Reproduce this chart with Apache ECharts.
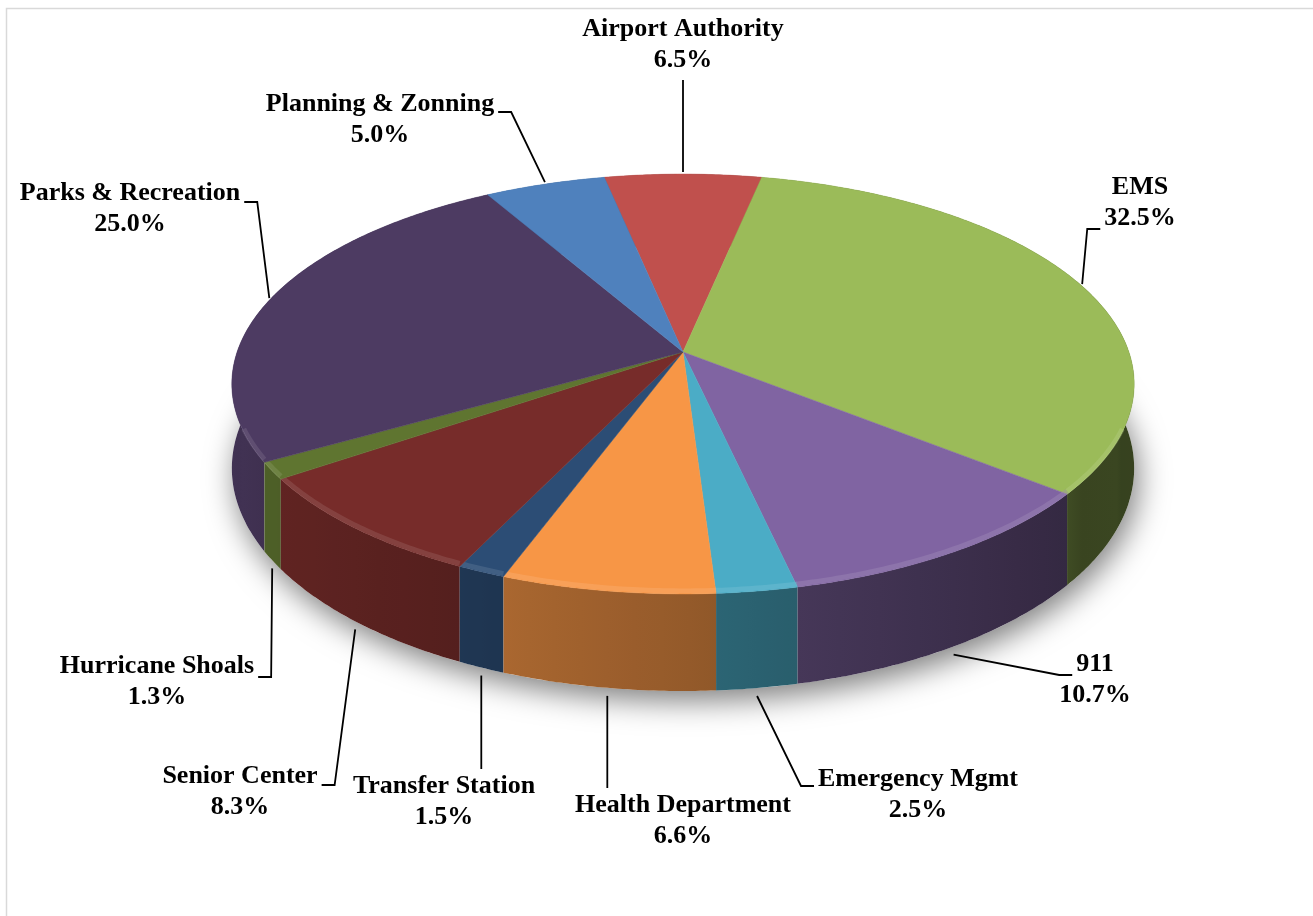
<!DOCTYPE html>
<html>
<head>
<meta charset="utf-8">
<script src="https://cdn.jsdelivr.net/npm/echarts@6/dist/echarts.min.js"></script>
<style>
  html, body { margin: 0; padding: 0; background: #ffffff; }
  #chart { width: 1313px; height: 916px; }
</style>
</head>
<body>
<div id="chart"></div>
<script>
// Budget share by department (percent of total)
const categories = ['Airport Authority', 'EMS', '911', 'Emergency Mgmt', 'Health Department',
  'Transfer Station', 'Senior Center', 'Hurricane Shoals', 'Parks & Recreation', 'Planning & Zonning'];
const shares = [6.5, 32.5, 10.7, 2.5, 6.6, 1.5, 8.3, 1.3, 25.0, 5.0];
const colors = ['#C0504D', '#9BBB59', '#8064A2', '#4BACC6', '#F79646',
  '#2C4D75', '#772C2A', '#5F7530', '#4D3B62', '#4F81BD'];

// Label placement: centre of the two-line label, the side its leader leaves from,
// and the vertical offset of the leader's attachment for side leaders.
const labelLayout = [
  { x: 683,  y: 45,  side: 'bottom' },
  { x: 1140, y: 203, side: 'left',  dy: 26 },
  { x: 1095, y: 680, side: 'left',  dy: -5 },
  { x: 918,  y: 795, side: 'left',  dy: -9 },
  { x: 683,  y: 821, side: 'top' },
  { x: 444,  y: 802, side: 'top' },
  { x: 240,  y: 792, side: 'right', dy: -7 },
  { x: 157,  y: 682, side: 'right', dy: -5 },
  { x: 130,  y: 209, side: 'right', dy: -7 },
  { x: 380,  y: 120, side: 'right', dy: -8 }
];

// ---- tilted-disc projection ----
const CX = 683, CY = 352;   // apex of the pie on screen
const DIST = 6.56;          // viewer distance in disc radii
const SX = 2925, SY = 1345; // horizontal / depth scale
const THICK = 540;          // disc thickness (scaled by perspective)

const total = shares.reduce((a, b) => a + b, 0);
const startAngle = -Math.PI * shares[0] / total; // first slice centred at the back
function angleAt(frac) { return startAngle + 2 * Math.PI * frac; }

// phi measured clockwise from the far side of the disc; level 0 = top face, 1 = underside
function project(phi, level) {
  const X = Math.sin(phi), Z = -Math.cos(phi);
  const w = DIST - Z;
  return [CX + SX * X / w, CY + (SY * Z + level * THICK) / w];
}

function hexToRgb(h) {
  const n = parseInt(h.slice(1), 16);
  return [(n >> 16) & 255, (n >> 8) & 255, n & 255];
}
function rgbStr(c) { return 'rgb(' + c.map(v => Math.max(0, Math.min(255, Math.round(v)))).join(',') + ')'; }
function shade(hex, f) { return rgbStr(hexToRgb(hex).map(v => v * f)); }
function tint(hex, t) { return rgbStr(hexToRgb(hex).map(v => v + (255 - v) * t)); }

const cumBefore = [];
shares.reduce((acc, v, i) => { cumBefore[i] = acc; return acc + v; }, 0);
const seriesData = shares.map((v, i) => ({ name: categories[i], value: [v, cumBefore[i], i] }));

function arcRange(api) {
  const v = api.value(0), c = api.value(1);
  return [angleAt(c / total), angleAt((c + v) / total)];
}
function arcPoints(a0, a1, level) {
  const n = Math.max(3, Math.ceil((a1 - a0) / 0.01));
  const pts = [];
  for (let k = 0; k <= n; k++) pts.push(project(a0 + (a1 - a0) * k / n, level));
  return pts;
}

// side walls: lit from the left, darker toward the right
function wallBrightness(phi) { return 0.6 - 0.25 * Math.sin(phi); }

function renderWall(params, api) {
  const i = api.value(2);
  const [a0, a1] = arcRange(api);
  const top = arcPoints(a0, a1, 0);
  const bot = arcPoints(a0, a1, 1);
  const pts = top.concat(bot.slice().reverse());
  const xs = pts.map(p => p[0]);
  const minX = Math.min.apply(null, xs), maxX = Math.max.apply(null, xs);
  const stops = [];
  const m = 8;
  for (let k = 0; k <= m; k++) {
    const phi = a0 + (a1 - a0) * k / m;
    const p = project(phi, 0);
    const off = maxX > minX ? (p[0] - minX) / (maxX - minX) : 0;
    stops.push({ offset: Math.max(0, Math.min(1, off)), color: shade(colors[i], wallBrightness(phi)) });
  }
  stops.sort((a, b) => a.offset - b.offset);
  const midZ = -Math.cos((a0 + a1) / 2);
  return {
    type: 'polygon',
    z2: Math.round(midZ * 100) + 200,
    shape: { points: pts },
    style: { fill: new echarts.graphic.LinearGradient(0, 0, 1, 0, stops), stroke: null },
    silent: true
  };
}

function renderTop(params, api) {
  const i = api.value(2);
  const [a0, a1] = arcRange(api);
  const rim = arcPoints(a0, a1, 0);
  const children = [{
    type: 'polygon',
    shape: { points: [[CX, CY]].concat(rim) },
    style: { fill: colors[i], stroke: colors[i], lineWidth: 0.5 },
    silent: true
  }];
  // soft bevel highlight along the front rim
  const lo = Math.max(a0, Math.PI * 0.62), hi = Math.min(a1, Math.PI * 1.38);
  if (hi > lo) {
    children.push({
      type: 'polyline',
      shape: { points: arcPoints(lo, hi, 0).map(p => [p[0], p[1] - 3]) },
      style: { stroke: tint(colors[i], 0.25), lineWidth: 5, opacity: 0.4, fill: null },
      silent: true
    });
  }
  return { type: 'group', children: children };
}

const FONT = 'bold 26px "Liberation Serif", "Times New Roman", serif';
const measureCtx = document.createElement('canvas').getContext('2d');
measureCtx.font = FONT;
function textWidth(s) { return measureCtx.measureText(s).width; }

function renderLabel(params, api) {
  const i = api.value(2);
  const [a0, a1] = arcRange(api);
  const mid = (a0 + a1) / 2;
  const midZ = -Math.cos(mid);
  let tip;
  if (midZ > 0.3) { const p = project(mid, 1); tip = [p[0], p[1] + 8]; }
  else { const p = project(mid, 0); tip = [p[0], p[1] - 2]; }
  const L = labelLayout[i];
  const line1 = categories[i];
  const line2 = api.value(0).toFixed(1) + '%';
  let pts;
  if (L.side === 'bottom') {
    pts = [[tip[0], L.y + 35], tip];
  } else if (L.side === 'top') {
    pts = [[tip[0], L.y - 33], tip];
  } else {
    const w = textWidth(L.dy > 0 ? line2 : line1);
    const dir = L.side === 'left' ? -1 : 1;
    const ax = L.x + dir * (w / 2 + 4), ay = L.y + L.dy;
    pts = [[ax, ay], [ax + dir * 13, ay], tip];
  }
  return {
    type: 'group',
    children: [
      { type: 'polyline', shape: { points: pts }, style: { stroke: '#000', lineWidth: 1.8, fill: null }, silent: true },
      { type: 'text', style: { text: line1 + '\n' + line2, x: L.x, y: L.y, align: 'center', verticalAlign: 'middle',
          font: FONT, lineHeight: 31, fill: '#000' }, silent: true }
    ]
  };
}

// outline of the underside, used for the soft drop shadow
const basePts = [];
for (let k = 0; k < 360; k++) basePts.push(project(k * Math.PI / 180, 1));

const chart = echarts.init(document.getElementById('chart'), null, { renderer: 'canvas' });
chart.setOption({
  backgroundColor: '#ffffff',
  animation: false,
  graphic: [
    { type: 'rect', z: 0, shape: { x: 6.5, y: 8.5, width: 1330, height: 930 },
      style: { fill: '#ffffff', stroke: '#d9d9d9', lineWidth: 1.5 }, silent: true },
    { type: 'polygon', z: 1, shape: { points: basePts },
      style: { fill: '#ffffff', shadowBlur: 30, shadowColor: 'rgba(0,0,0,0.5)', shadowOffsetY: 10, shadowOffsetX: 4 }, silent: true }
  ],
  series: [
    { type: 'custom', name: 'walls', coordinateSystem: 'none', z: 3, data: seriesData, renderItem: renderWall },
    { type: 'custom', name: 'tops', coordinateSystem: 'none', z: 4, data: seriesData, renderItem: renderTop },
    { type: 'custom', name: 'labels', coordinateSystem: 'none', z: 5, data: seriesData, renderItem: renderLabel }
  ]
});
</script>
</body>
</html>
